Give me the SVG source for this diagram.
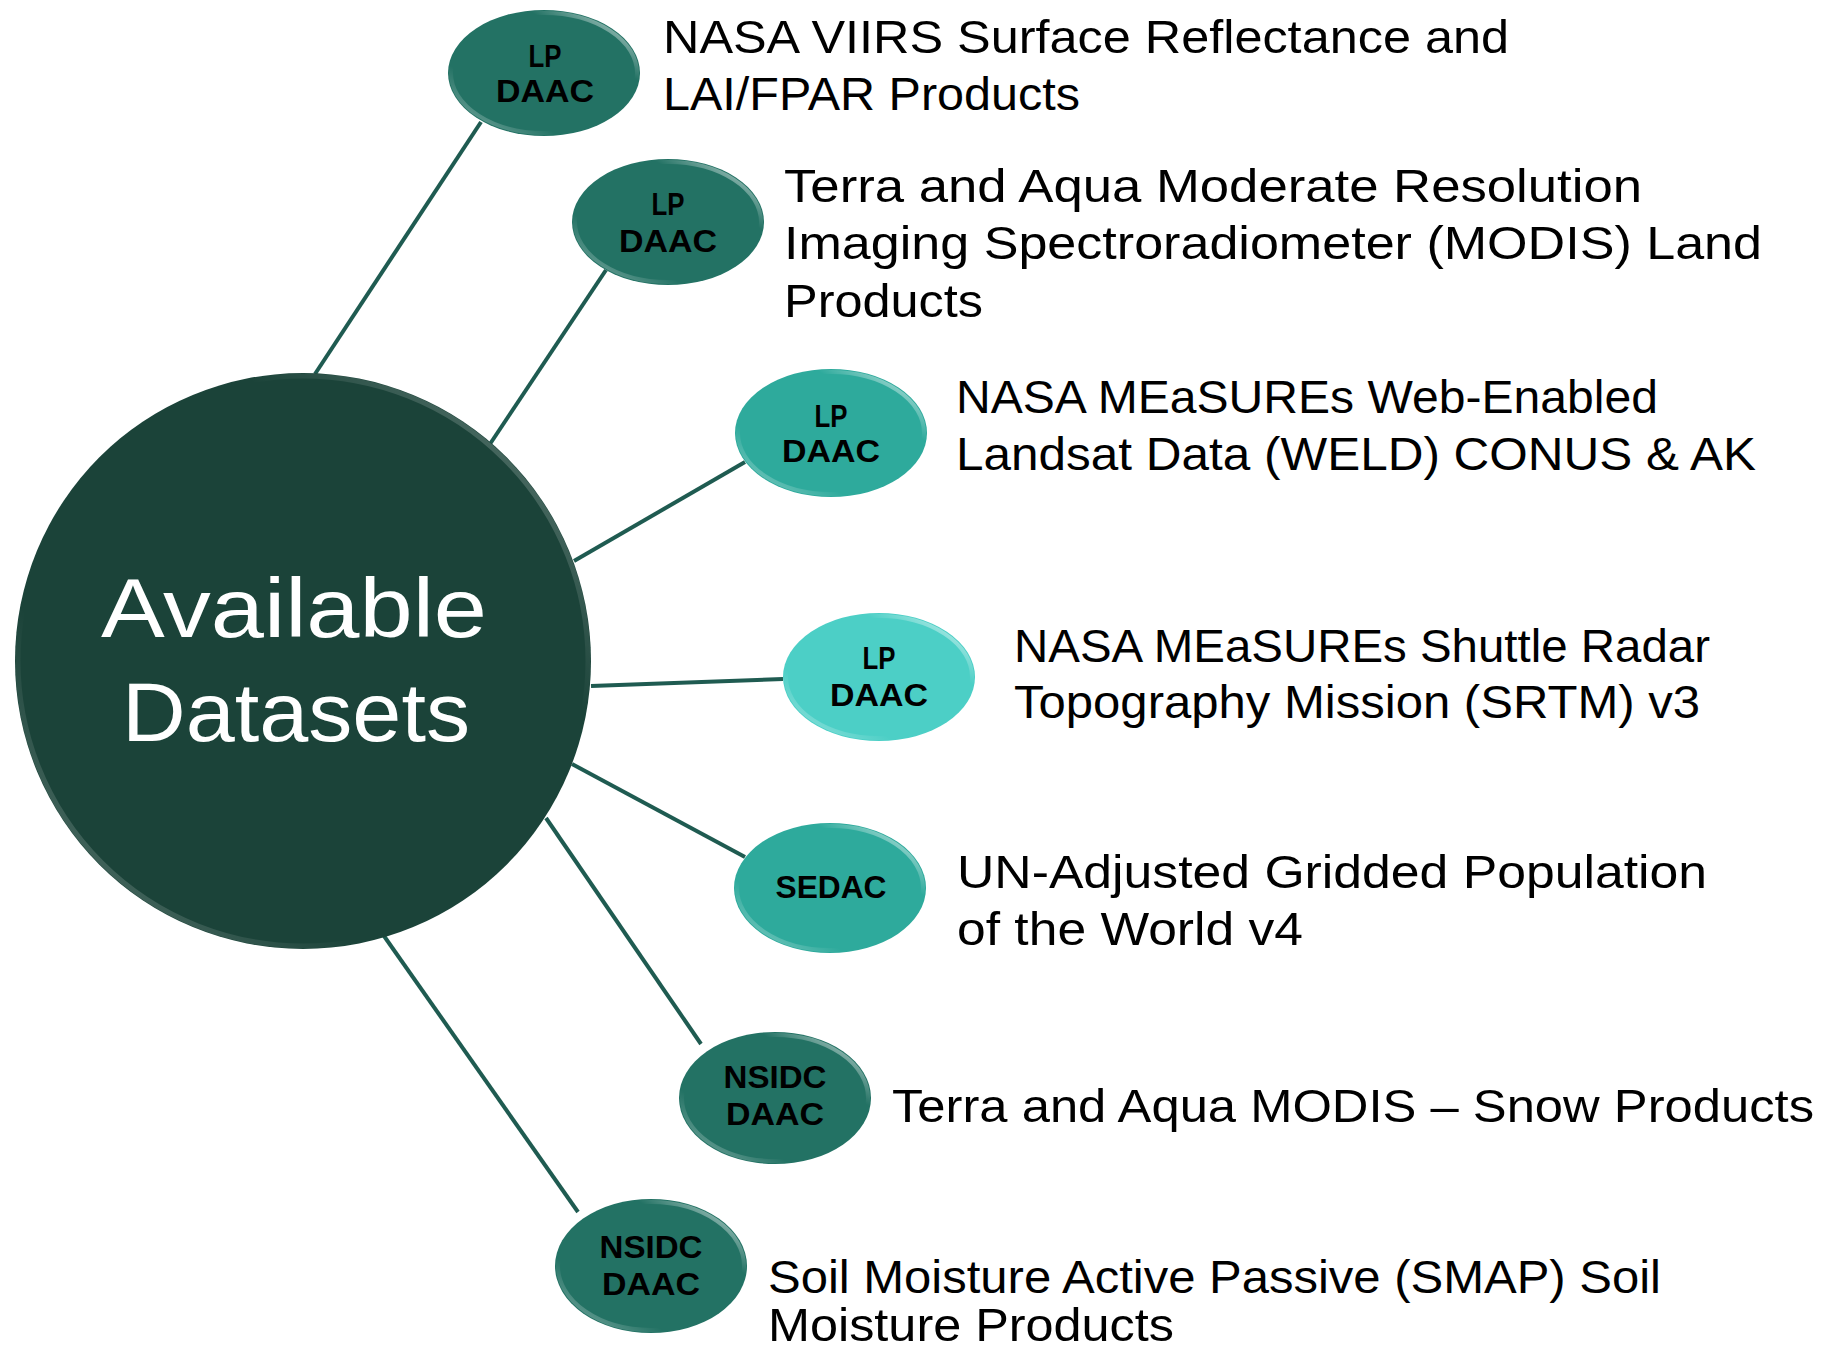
<svg xmlns="http://www.w3.org/2000/svg" width="1839" height="1353" viewBox="0 0 1839 1353">
<defs>
<linearGradient id="rim" x1="1" y1="0" x2="0" y2="1">
<stop offset="0" stop-color="#ffffff" stop-opacity="0.8"/>
<stop offset="0.28" stop-color="#ffffff" stop-opacity="0"/>
<stop offset="0.72" stop-color="#ffffff" stop-opacity="0"/>
<stop offset="1" stop-color="#ffffff" stop-opacity="0.45"/>
</linearGradient>
<linearGradient id="rimBig" x1="1" y1="0" x2="0" y2="1">
<stop offset="0" stop-color="#ffffff" stop-opacity="0.35"/>
<stop offset="0.3" stop-color="#ffffff" stop-opacity="0"/>
<stop offset="0.7" stop-color="#ffffff" stop-opacity="0"/>
<stop offset="1" stop-color="#ffffff" stop-opacity="0.3"/>
</linearGradient>
</defs>
<style>
.conn line{stroke:#1f5b51;stroke-width:4;stroke-linecap:butt}
.dark{fill:#237264}
.mid{fill:#2eaa9c}
.light{fill:#4ccfc6}
.rim{fill:none;stroke:url(#rim);stroke-width:4}
.lbl{font-family:"Liberation Sans",Arial,sans-serif;font-weight:bold;font-size:32px;fill:#000;text-anchor:middle}
.desc{font-family:"Liberation Sans",Arial,sans-serif;font-size:46px;fill:#000}
.hub{font-family:"Liberation Sans",Arial,sans-serif;font-size:84px;fill:#fff;text-anchor:middle}
</style>
<rect width="1839" height="1353" fill="#ffffff"/>
<g id="connectors" class="conn">
<line x1="315" y1="374" x2="481" y2="122"/>
<line x1="490" y1="444" x2="606" y2="270"/>
<line x1="574" y1="561" x2="745" y2="462"/>
<line x1="591" y1="686" x2="783" y2="679"/>
<line x1="572" y1="764" x2="745" y2="857"/>
<line x1="546" y1="818" x2="701" y2="1044"/>
<line x1="384" y1="936" x2="578" y2="1212"/>
</g>
<g id="hub">
<circle cx="303" cy="661" r="288" fill="#1b4339"/>
<circle cx="303" cy="661" r="285" fill="none" stroke="url(#rimBig)" stroke-width="5"/>
<text class="hub" x="294" y="637" textLength="386" lengthAdjust="spacingAndGlyphs">Available</text>
<text class="hub" x="296" y="741" textLength="348" lengthAdjust="spacingAndGlyphs">Datasets</text>
</g>
<g id="node1">
<ellipse class="dark" cx="544" cy="73" rx="96" ry="63"/>
<ellipse class="rim" cx="544" cy="73" rx="93" ry="60"/>
<text class="lbl" x="545" y="67" textLength="33" lengthAdjust="spacingAndGlyphs">LP</text>
<text class="lbl" x="545" y="102" textLength="98" lengthAdjust="spacingAndGlyphs">DAAC</text>
<text class="desc" x="663" y="53" textLength="846" lengthAdjust="spacingAndGlyphs">NASA VIIRS Surface Reflectance and</text>
<text class="desc" x="663" y="110" textLength="417" lengthAdjust="spacingAndGlyphs">LAI/FPAR Products</text>
</g>
<g id="node2">
<ellipse class="dark" cx="668" cy="222" rx="96" ry="63"/>
<ellipse class="rim" cx="668" cy="222" rx="93" ry="60"/>
<text class="lbl" x="668" y="215" textLength="33" lengthAdjust="spacingAndGlyphs">LP</text>
<text class="lbl" x="668" y="252" textLength="98" lengthAdjust="spacingAndGlyphs">DAAC</text>
<text class="desc" x="784" y="202" textLength="858" lengthAdjust="spacingAndGlyphs">Terra and Aqua Moderate Resolution</text>
<text class="desc" x="784" y="259" textLength="978" lengthAdjust="spacingAndGlyphs">Imaging Spectroradiometer (MODIS) Land</text>
<text class="desc" x="784" y="317" textLength="199" lengthAdjust="spacingAndGlyphs">Products</text>
</g>
<g id="node3">
<ellipse class="mid" cx="831" cy="433" rx="96" ry="64"/>
<ellipse class="rim" cx="831" cy="433" rx="93" ry="61"/>
<text class="lbl" x="831" y="427" textLength="33" lengthAdjust="spacingAndGlyphs">LP</text>
<text class="lbl" x="831" y="462" textLength="98" lengthAdjust="spacingAndGlyphs">DAAC</text>
<text class="desc" x="956" y="413" textLength="702" lengthAdjust="spacingAndGlyphs">NASA MEaSUREs Web-Enabled</text>
<text class="desc" x="956" y="470" textLength="800" lengthAdjust="spacingAndGlyphs">Landsat Data (WELD) CONUS &amp; AK</text>
</g>
<g id="node4">
<ellipse class="light" cx="879" cy="677" rx="96" ry="64"/>
<ellipse class="rim" cx="879" cy="677" rx="93" ry="61"/>
<text class="lbl" x="879" y="669" textLength="33" lengthAdjust="spacingAndGlyphs">LP</text>
<text class="lbl" x="879" y="706" textLength="98" lengthAdjust="spacingAndGlyphs">DAAC</text>
<text class="desc" x="1014" y="662" textLength="696" lengthAdjust="spacingAndGlyphs">NASA MEaSUREs Shuttle Radar</text>
<text class="desc" x="1014" y="718" textLength="686" lengthAdjust="spacingAndGlyphs">Topography Mission (SRTM) v3</text>
</g>
<g id="node5">
<ellipse class="mid" cx="830" cy="888" rx="96" ry="65"/>
<ellipse class="rim" cx="830" cy="888" rx="93" ry="62"/>
<text class="lbl" x="831" y="898" textLength="111" lengthAdjust="spacingAndGlyphs">SEDAC</text>
<text class="desc" x="957" y="888" textLength="750" lengthAdjust="spacingAndGlyphs">UN-Adjusted Gridded Population</text>
<text class="desc" x="957" y="945" textLength="346" lengthAdjust="spacingAndGlyphs">of the World v4</text>
</g>
<g id="node6">
<ellipse class="dark" cx="775" cy="1098" rx="96" ry="66"/>
<ellipse class="rim" cx="775" cy="1098" rx="93" ry="63"/>
<text class="lbl" x="775" y="1088" textLength="103" lengthAdjust="spacingAndGlyphs">NSIDC</text>
<text class="lbl" x="775" y="1125" textLength="98" lengthAdjust="spacingAndGlyphs">DAAC</text>
<text class="desc" x="892" y="1122" textLength="922" lengthAdjust="spacingAndGlyphs">Terra and Aqua MODIS – Snow Products</text>
</g>
<g id="node7">
<ellipse class="dark" cx="651" cy="1266" rx="96" ry="67"/>
<ellipse class="rim" cx="651" cy="1266" rx="93" ry="64"/>
<text class="lbl" x="651" y="1258" textLength="103" lengthAdjust="spacingAndGlyphs">NSIDC</text>
<text class="lbl" x="651" y="1295" textLength="98" lengthAdjust="spacingAndGlyphs">DAAC</text>
<text class="desc" x="768" y="1293" textLength="893" lengthAdjust="spacingAndGlyphs">Soil Moisture Active Passive (SMAP) Soil</text>
<text class="desc" x="768" y="1341" textLength="406" lengthAdjust="spacingAndGlyphs">Moisture Products</text>
</g>
</svg>
